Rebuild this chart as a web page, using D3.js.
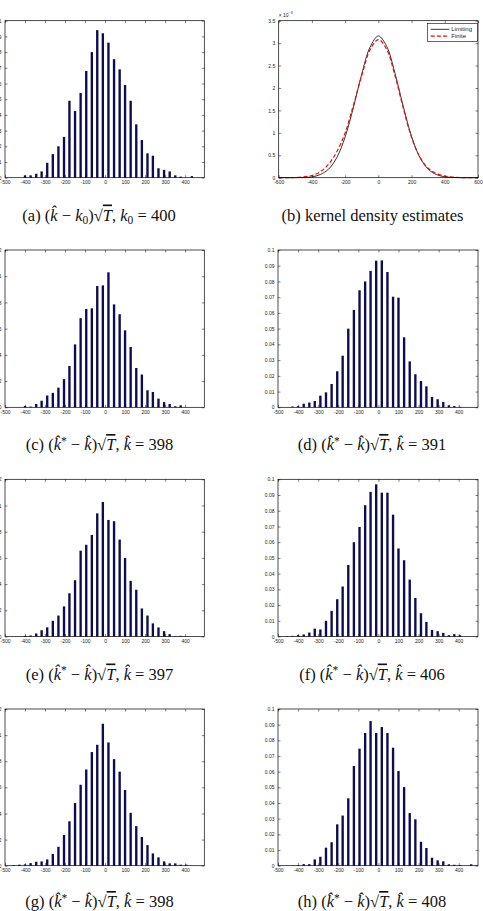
<!DOCTYPE html>
<html>
<head>
<meta charset="utf-8">
<script src="https://cdn.jsdelivr.net/npm/d3@7"></script>
<style>
  body { margin: 0; background: #fff; }
  svg text { font-family: "Liberation Sans", Arial, sans-serif; }
  svg text.cap { font-family: "Liberation Serif", "Times New Roman", serif; }
</style>
</head>
<body>
<div id="fig"></div>
<script>
// histogram bin centres (shared by all the histogram panels)
var binCenters = [-456, -428, -400, -372, -344, -317, -289, -261, -233, -205, -178, -150, -122, -94, -66, -39, -11,
                  17, 45, 73, 100, 128, 156, 184, 212, 239, 267, 295, 323, 351, 378, 406, 434, 462];

// relative frequencies
var histA = [0, 0, 0.0015, 0.0015, 0.0025, 0.004, 0.0095, 0.015, 0.020, 0.026, 0.049, 0.0425, 0.054, 0.068, 0.080, 0.094, 0.092,
             0.086, 0.0755, 0.069, 0.059, 0.049, 0.034, 0.024, 0.0155, 0.014, 0.006, 0.005, 0.004, 0.0015, 0.0007, 0, 0.001, 0];
var histC = [0, 0, 0.001, 0.0005, 0.0025, 0.005, 0.009, 0.011, 0.015, 0.0215, 0.0315, 0.048, 0.068, 0.075, 0.0755, 0.0925, 0.093,
             0.103, 0.0785, 0.071, 0.0587, 0.046, 0.030, 0.025, 0.013, 0.0117, 0.0066, 0.004, 0.0025, 0.0008, 0.0015, 0, 0, 0];
var histD = [0, 0.0005, 0.0007, 0.0023, 0.003, 0.004, 0.0074, 0.0095, 0.0148, 0.0229, 0.0328, 0.050, 0.0619, 0.0744, 0.080, 0.0867, 0.0932,
             0.0934, 0.086, 0.0703, 0.0697, 0.0445, 0.0292, 0.021, 0.0167, 0.0133, 0.0066, 0.0051, 0.0034, 0.0013, 0.0008, 0.0003, 0, 0];
var histE = [0, 0, 0.0005, 0.0008, 0.0023, 0.0048, 0.007, 0.012, 0.016, 0.023, 0.033, 0.043, 0.0655, 0.070, 0.0775, 0.094, 0.1027,
             0.089, 0.088, 0.074, 0.060, 0.0425, 0.0357, 0.0214, 0.016, 0.010, 0.0069, 0.0041, 0.0018, 0.0003, 0.0005, 0, 0, 0];
var histF = [0.0002, 0.0004, 0.0008, 0.0013, 0.0025, 0.005, 0.0045, 0.010, 0.0163, 0.0237, 0.0318, 0.0455, 0.060, 0.0697, 0.0835, 0.092, 0.0968,
             0.0915, 0.0915, 0.0775, 0.056, 0.0485, 0.0362, 0.0245, 0.0148, 0.0093, 0.0042, 0.0034, 0.0023, 0.0008, 0.0015, 0.0008, 0, 0];
var histG = [0.0005, 0.0008, 0.001, 0.002, 0.003, 0.0033, 0.0048, 0.009, 0.0145, 0.0235, 0.034, 0.048, 0.062, 0.0737, 0.087, 0.0926, 0.1087,
             0.0944, 0.0816, 0.072, 0.058, 0.0405, 0.0303, 0.022, 0.0158, 0.0094, 0.0064, 0.0033, 0.0018, 0.0018, 0.0008, 0.0008, 0, 0];
var histH = [0, 0.0002, 0.0004, 0.001, 0.001, 0.004, 0.0057, 0.0115, 0.015, 0.0264, 0.032, 0.043, 0.0636, 0.0747, 0.0847, 0.0923, 0.0847,
             0.0885, 0.0847, 0.0753, 0.0604, 0.0502, 0.0336, 0.0296, 0.0153, 0.0113, 0.0051, 0.0034, 0.0028, 0.0009, 0.0006, 0.0004, 0, 0.0009];

// kernel density estimates, values in units of 1e-3
var kdeX =        [-600, -550, -500, -450, -400, -350, -300, -250, -200, -150, -100, -50, 0, 50, 100, 150, 200, 250, 300, 350, 400, 450, 500, 550, 600];
var kdeLimiting = [0, 0, 0, 0.005, 0.018, 0.07, 0.19, 0.45, 0.91, 1.57, 2.31, 2.91, 3.16, 2.93, 2.33, 1.59, 0.92, 0.45, 0.19, 0.07, 0.02, 0.005, 0, 0, 0];
var kdeFinite =   [0, 0, 0.005, 0.02, 0.05, 0.13, 0.30, 0.58, 1.0, 1.62, 2.28, 2.85, 3.08, 2.86, 2.28, 1.55, 0.9, 0.46, 0.21, 0.09, 0.035, 0.012, 0.003, 0, 0];
var kdeSeries = ["Limiting", "Finite"];

// tick values
var histXTicks = [-500, -400, -300, -200, -100, 0, 100, 200, 300, 400];
var yTicksTenth = [0, 0.01, 0.02, 0.03, 0.04, 0.05, 0.06, 0.07, 0.08, 0.09, 0.1];
var yTicksTwelve = [0, 0.02, 0.04, 0.06, 0.08, 0.1, 0.12];
var kdeXTicks = [-600, -400, -200, 0, 200, 400, 600];
var kdeYTicks = [0, 0.5, 1, 1.5, 2, 2.5, 3, 3.5];

// captions: [text, kind]  kind = r roman, i italic, sub, sup, over (italic + bar)
var capA = [["(a) (", "r"], ["k\u0302", "i"], [" \u2212 ", "r"], ["k", "i"], ["0", "sub"], [")\u221A", "r"], ["T", "over"], [", ", "r"], ["k", "i"], ["0", "sub"], [" = 400", "r"]];
var capB = [["(b) kernel density estimates", "r"]];
function capStar(letter, k) {
  return [["(" + letter + ") (", "r"], ["k\u0302", "i"], ["*", "sup"], [" \u2212 ", "r"], ["k\u0302", "i"], [")\u221A", "r"], ["T", "over"], [", ", "r"], ["k\u0302", "i"], [" = " + k, "r"]];
}
var capC = capStar("c", 398), capD = capStar("d", 391), capE = capStar("e", 397),
    capF = capStar("f", 406), capG = capStar("g", 398), capH = capStar("h", 408);

var W = 483, H = 911;
var svg = d3.select("#fig").append("svg")
    .attr("width", W).attr("height", H)
    .style("display", "block");
svg.append("rect").attr("width", W).attr("height", H).attr("fill", "#fff");

var rows = [[20.7, 177.7], [250, 407.3], [479.3, 636.5], [709, 865.7]];
var leftCol = [5, 204.3], rightCol = [278, 478];

function drawAxes(g, x, y, w, h, xt, yt) {
  var tl = 2.5;
  g.append("g").attr("transform", "translate(0," + h + ")")
    .call(d3.axisBottom(x).tickValues(xt).tickSizeInner(-tl).tickSizeOuter(0).tickPadding(3).tickFormat(function (d) { return String(d); }));
  g.append("g")
    .call(d3.axisTop(x).tickValues(xt).tickSizeInner(-tl).tickSizeOuter(0).tickFormat(""));
  g.append("g")
    .call(d3.axisLeft(y).tickValues(yt).tickSizeInner(-tl).tickSizeOuter(0).tickPadding(3.5).tickFormat(function (d) { return String(d); }));
  g.append("g").attr("transform", "translate(" + w + ",0)")
    .call(d3.axisRight(y).tickValues(yt).tickSizeInner(-tl).tickSizeOuter(0).tickFormat(""));
  g.selectAll(".domain").remove();
  g.selectAll(".tick line").attr("stroke", "#000").attr("stroke-width", 0.5);
  g.selectAll(".tick text").attr("font-size", 5).attr("font-family", "Liberation Sans, Arial, sans-serif").attr("fill", "#222");
  g.append("rect").attr("width", w).attr("height", h)
    .attr("fill", "none").attr("stroke", "#000").attr("stroke-width", 0.7);
}

function drawHist(col, row, values, yMax, yTicks) {
  var w = col[1] - col[0], h = row[1] - row[0];
  var g = svg.append("g").attr("transform", "translate(" + col[0] + "," + row[0] + ")");
  var x = d3.scaleLinear().domain([-500, 496]).range([0, w]);
  var y = d3.scaleLinear().domain([0, yMax]).range([h, 0]);
  var bw = (x(binCenters[1]) - x(binCenters[0])) * 0.42;
  var data = binCenters.map(function (c, i) { return { c: c, v: values[i] }; })
    .filter(function (d) { return d.v > 0; });
  g.append("g").selectAll("rect").data(data).enter().append("rect")
    .attr("x", function (d) { return x(d.c) - bw / 2; })
    .attr("y", function (d) { return y(d.v); })
    .attr("width", bw)
    .attr("height", function (d) { return h - y(d.v); })
    .attr("fill", "#0c0c52");
  drawAxes(g, x, y, w, h, histXTicks, yTicks);
}

function drawKde(col, row) {
  var w = col[1] - col[0], h = row[1] - row[0];
  var g = svg.append("g").attr("transform", "translate(" + col[0] + "," + row[0] + ")");
  var x = d3.scaleLinear().domain([-600, 600]).range([0, w]);
  var y = d3.scaleLinear().domain([0, 3.5]).range([h, 0]);
  var line = d3.line().x(function (d) { return x(d[0]); }).y(function (d) { return y(d[1]); })
    .curve(d3.curveCatmullRom);
  g.append("path").datum(kdeX.map(function (v, i) { return [v, kdeLimiting[i]]; }))
    .attr("d", line).attr("fill", "none").attr("stroke", "#000").attr("stroke-width", 0.8);
  g.append("path").datum(kdeX.map(function (v, i) { return [v, kdeFinite[i]]; }))
    .attr("d", line).attr("fill", "none").attr("stroke", "#e01010").attr("stroke-width", 1.2)
    .attr("stroke-dasharray", "4,2.2");
  drawAxes(g, x, y, w, h, kdeXTicks, kdeYTicks);

  // exponent label
  var ex = g.append("text").attr("x", 0).attr("y", -4).attr("font-size", 5).attr("fill", "#222");
  ex.append("tspan").text("\u00D7 10");
  ex.append("tspan").attr("dy", -2.5).attr("font-size", 3.6).text("\u22123");

  // legend
  var lg = g.append("g").attr("transform", "translate(" + (w - 50.7) + ",2.6)");
  lg.append("rect").attr("width", 50).attr("height", 18).attr("fill", "#fff").attr("stroke", "#000").attr("stroke-width", 0.6);
  var styles = [{ c: "#000", dash: null, sw: 0.8 }, { c: "#e01010", dash: "4,2.2", sw: 1.2 }];
  kdeSeries.forEach(function (name, i) {
    var yy = 6 + i * 6.8;
    lg.append("line").attr("x1", 3.4).attr("x2", 22).attr("y1", yy).attr("y2", yy)
      .attr("stroke", styles[i].c).attr("stroke-width", styles[i].sw).attr("stroke-dasharray", styles[i].dash);
    lg.append("text").attr("x", 24).attr("y", yy + 2).attr("font-size", 6).attr("fill", "#222").text(name);
  });
}

function drawCaption(cx, cy, parts) {
  var t = svg.append("text").attr("class", "cap").attr("x", cx).attr("y", cy)
    .attr("text-anchor", "middle").style("font-size", "16.5px").attr("fill", "#111");
  var shift = 0;
  parts.forEach(function (p) {
    var s = t.append("tspan").text(p[0]);
    var want = p[1] === "sub" ? 3.5 : p[1] === "sup" ? -5.5 : 0;
    if (want !== shift) { s.attr("dy", want - shift); shift = want; }
    if (p[1] === "sub" || p[1] === "sup") s.style("font-size", "11.5px");
    if (p[1] === "i" || p[1] === "over") s.style("font-style", "italic");
    if (p[1] === "over") s.style("text-decoration", "overline");
  });
}

drawHist(leftCol, rows[0], histA, 0.1, yTicksTenth);
drawKde([278.7, 478], rows[0]);
drawHist(leftCol, rows[1], histC, 0.12, yTicksTwelve);
drawHist(rightCol, rows[1], histD, 0.1, yTicksTenth);
drawHist(leftCol, rows[2], histE, 0.12, yTicksTwelve);
drawHist(rightCol, rows[2], histF, 0.1, yTicksTenth);
drawHist(leftCol, rows[3], histG, 0.12, yTicksTwelve);
drawHist(rightCol, rows[3], histH, 0.1, yTicksTenth);

drawCaption(99, 220.5, capA);
drawCaption(372.5, 220.5, capB);
drawCaption(99.5, 450, capC);
drawCaption(372, 450, capD);
drawCaption(99.5, 679.5, capE);
drawCaption(372, 679.5, capF);
drawCaption(99.5, 907, capG);
drawCaption(372, 907, capH);
</script>
</body>
</html>
